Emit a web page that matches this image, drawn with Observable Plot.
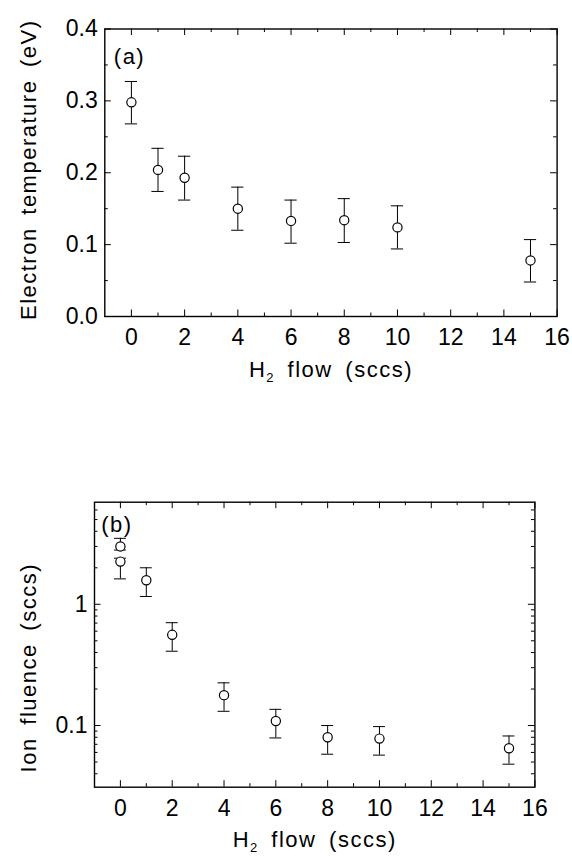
<!DOCTYPE html>
<html><head><meta charset="utf-8">
<script src="https://cdn.jsdelivr.net/npm/d3@7"></script>
<script src="https://cdn.jsdelivr.net/npm/@observablehq/plot@0.6"></script>
<style>
html,body{margin:0;padding:0;background:#fff;}
#chart{width:572px;}
#chart svg{display:block;}
</style></head><body><div id="chart"></div>
<script>
// ---- Panel (a): electron temperature ----
const flowA = [0, 1, 2, 4, 6, 8, 10, 15];
const tempA = [0.298, 0.204, 0.193, 0.150, 0.133, 0.134, 0.124, 0.078];
const tempLoA = [0.268, 0.174, 0.162, 0.120, 0.102, 0.103, 0.094, 0.048];
const tempHiA = [0.327, 0.234, 0.223, 0.180, 0.162, 0.164, 0.154, 0.107];

// ---- Panel (b): ion fluence ----
const flowB = [0, 0, 1, 2, 4, 6, 8, 10, 15];
const fluenceB = [3.0, 2.25, 1.58, 0.56, 0.178, 0.109, 0.080, 0.078, 0.065];
const fluenceLoB = [2.8, 1.62, 1.16, 0.41, 0.131, 0.079, 0.058, 0.057, 0.048];
const fluenceHiB = [3.5, 2.4, 2.0, 0.705, 0.225, 0.136, 0.100, 0.098, 0.082];

// ---- ticks and labels ----
const xTicks = [0, 2, 4, 6, 8, 10, 12, 14, 16];
const xMinor = [1, 3, 5, 7, 9, 11, 13, 15];
const yTicksA = [0.0, 0.1, 0.2, 0.3, 0.4];
const yMinorA = [0.05, 0.15, 0.25, 0.35];
const yTicksB = [0.1, 1];
const yMinorB = [0.04, 0.05, 0.06, 0.07, 0.08, 0.09, 0.2, 0.3, 0.4, 0.5, 0.6, 0.7, 0.8, 0.9, 2, 3, 4, 5, 6];
const xLabel = "H2 flow (sccs)";
const yLabelA = "Electron temperature (eV)";
const yLabelB = "Ion fluence (sccs)";
const panelA = "(a)";
const panelB = "(b)";

const W = 572;
const FONT = "'Liberation Sans', Arial, Helvetica, sans-serif";

function makePanel(cfg) {
  const [mt, mr, mb, ml] = cfg.margins;
  const H = cfg.height;
  const FW = W - ml - mr, FH = H - mt - mb;
  const data = cfg.xs.map((x, i) => ({x, y: cfg.ys[i], lo: cfg.lo[i], hi: cfg.hi[i]}));
  const cap = 0.23;
  const MAJ = 6.5, MIN = 3.5;
  const tk = {stroke: "black", strokeWidth: 1};
  return Plot.plot({
    width: W, height: H,
    marginTop: mt, marginRight: mr, marginBottom: mb, marginLeft: ml,
    style: {fontFamily: FONT, fontSize: "23px", color: "black", background: "white", overflow: "visible"},
    x: {domain: [-1, 16]},
    y: cfg.y,
    marks: [
      Plot.tickX(xTicks, {x: d => d, insetTop: FH - MAJ, ...tk}),
      Plot.tickX(xTicks, {x: d => d, insetBottom: FH - MAJ, ...tk}),
      Plot.tickX(xMinor, {x: d => d, insetTop: FH - MIN, ...tk}),
      Plot.tickX(xMinor, {x: d => d, insetBottom: FH - MIN, ...tk}),
      Plot.tickY(cfg.yTicks, {y: d => d, insetRight: FW - MAJ, ...tk}),
      Plot.tickY(cfg.yTicks, {y: d => d, insetLeft: FW - MAJ, ...tk}),
      Plot.tickY(cfg.yMinor, {y: d => d, insetRight: FW - MIN, ...tk}),
      Plot.tickY(cfg.yMinor, {y: d => d, insetLeft: FW - MIN, ...tk}),
      Plot.ruleX(data, {x: "x", y1: "lo", y2: "hi", ...tk}),
      Plot.ruleY(data, {y: "hi", x1: d => d.x - cap, x2: d => d.x + cap, ...tk}),
      Plot.ruleY(data, {y: "lo", x1: d => d.x - cap, x2: d => d.x + cap, ...tk}),
      Plot.dot(data, {x: "x", y: "y", r: 4.6, fill: "white", stroke: "black", strokeWidth: 1.2}),
      Plot.frame({stroke: "black", strokeWidth: 1.4}),
      Plot.axisX({ticks: xTicks, tickSize: 0, tickPadding: 12, label: null, anchor: "bottom"}),
      Plot.axisY({ticks: cfg.yTicks, tickSize: 0, tickPadding: 7, label: null, anchor: "left", tickFormat: cfg.yFmt}),
      Plot.text([cfg.ylabel], {text: d => d, frameAnchor: "left", dx: -(ml - 35), dy: cfg.ylabelDy,
        rotate: -90, textAnchor: "middle", lineAnchor: "bottom", fontSize: 22, fill: "black"}),
      Plot.text([xLabel], {text: d => d, frameAnchor: "bottom", dy: cfg.xlabelDy,
        textAnchor: "middle", lineAnchor: "bottom", fontSize: 22, fill: "black"}),
      Plot.text([cfg.panel], {text: d => d, frameAnchor: "top-left", dx: cfg.panelDx, dy: cfg.panelDy,
        textAnchor: "start", lineAnchor: "bottom", fontSize: 22, fill: "black"})
    ]
  });
}

function postProcess(svg, labels) {
  svg.querySelectorAll("text").forEach(t => {
    const s = t.textContent;
    if (s === xLabel) {
      t.textContent = "";
      const ns = "http://www.w3.org/2000/svg";
      const a = document.createElementNS(ns, "tspan"); a.textContent = "H";
      const b = document.createElementNS(ns, "tspan"); b.textContent = "2";
      b.setAttribute("dy", "4.5"); b.setAttribute("font-size", "13");
      const c = document.createElementNS(ns, "tspan"); c.textContent = " flow (sccs)";
      c.setAttribute("dy", "-4.5");
      t.append(a, b, c);
    }
    if (labels.includes(s)) {
      t.style.letterSpacing = "1.5px";
      t.style.wordSpacing = "5px";
    }
  });
}

const chartA = makePanel({
  xs: flowA, ys: tempA, lo: tempLoA, hi: tempHiA,
  margins: [28.5, 15.4, 154, 104.3], height: 470,
  y: {domain: [0, 0.4]},
  yTicks: yTicksA, yMinor: yMinorA, yFmt: d3.format(".1f"),
  ylabel: yLabelA, ylabelDy: -3, xlabelDy: 60.7,
  panel: panelA, panelDx: 9, panelDy: 34.5
});
const chartB = makePanel({
  xs: flowB, ys: fluenceB, lo: fluenceLoB, hi: fluenceHiB,
  margins: [31.7, 37.6, 69.3, 94], height: 386,
  y: {type: "log", domain: [0.031, 6.95]},
  yTicks: yTicksB, yMinor: yMinorB, yFmt: d => (d >= 1 ? d3.format("d")(d) : d3.format(".1f")(d)),
  ylabel: yLabelB, ylabelDy: 23, xlabelDy: 60,
  panel: panelB, panelDx: 6.7, panelDy: 29.3
});
const labels = [xLabel, yLabelA, yLabelB, panelA, panelB];
postProcess(chartA, labels);
postProcess(chartB, labels);
document.getElementById("chart").append(chartA, chartB);
</script>
</body></html>
